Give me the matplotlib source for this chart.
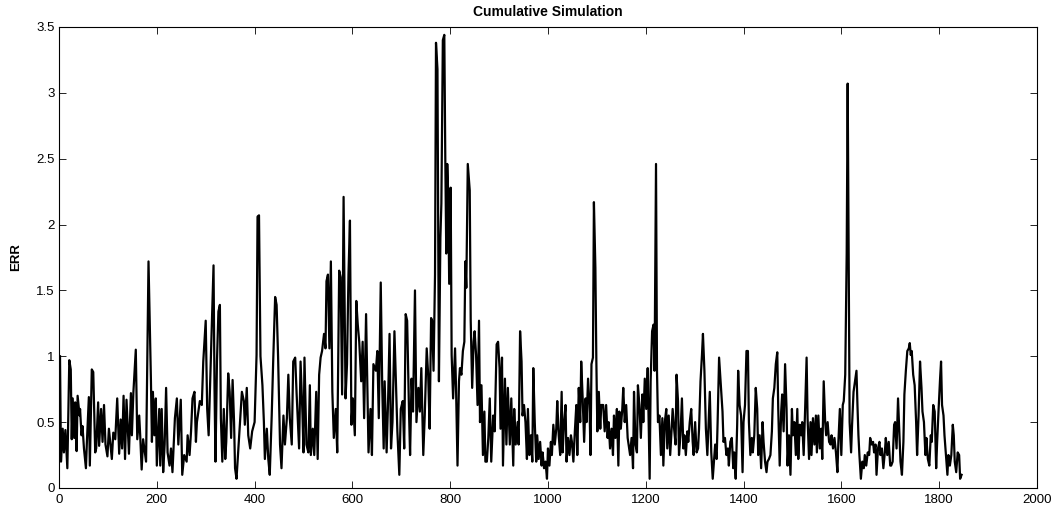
import matplotlib
matplotlib.use("Agg")
import matplotlib.pyplot as plt
from matplotlib.ticker import FuncFormatter

title = "Cumulative Simulation"
ylabel = "ERR"
xticks = [0, 200, 400, 600, 800, 1000, 1200, 1400, 1600, 1800, 2000]
yticks = [0, 0.5, 1, 1.5, 2, 2.5, 3, 3.5]

# (sample index, ERR)
x_vals = [
    2, 4, 7.5, 10, 13, 17, 21, 24, 26, 28, 31, 33, 35, 36, 38, 42, 43, 46, 48, 51,
    55, 57, 61, 63, 67, 70, 74, 76, 80, 82, 86, 89, 92, 95, 99, 102, 108, 111, 115, 119,
    123, 126, 129, 132, 135, 138, 143, 147, 149, 152, 157, 160, 164, 166, 169, 172, 178, 183,
    188, 190, 192, 195, 198, 200, 205, 207, 210, 213, 216, 219, 222, 226, 229, 232, 237, 241,
    244, 249, 252, 256, 261, 263, 267, 270, 273, 277, 280, 282, 285, 288, 292, 295, 300, 303,
    306, 310, 313, 316, 318, 320, 323, 326, 329, 331, 334, 337, 340, 342, 346, 349, 352, 355,
    358, 360, 363, 366, 370, 374, 378, 380, 384, 387, 391, 395, 400, 404, 406, 409, 412, 416,
    419, 421, 425, 428, 431, 435, 438, 442, 445, 448, 452, 455, 459, 462, 466, 469, 472, 476,
    479, 483, 486, 491, 494, 498, 500, 502, 506, 510, 513, 515, 519, 522, 526, 529, 532, 535,
    538, 542, 545, 547, 550, 553, 556, 559, 562, 566, 569, 573, 576, 579, 582, 586, 589, 592,
    595, 598, 601, 605, 608, 611, 614, 618, 621, 624, 628, 631, 633, 637, 640, 643, 648, 651,
    654, 658, 661, 664, 666, 670, 673, 676, 679, 682, 686, 689, 692, 696, 699, 703, 706, 709,
    712, 716, 718, 721, 724, 728, 731, 735, 738, 741, 745, 748, 752, 755, 758, 761, 763, 766,
    769, 771, 774, 777, 780, 782, 785, 788, 790, 792, 794, 796, 798, 801, 803, 806, 810, 812,
    815, 818, 820, 823, 826, 829, 831, 833, 836, 840, 842, 845, 848, 850, 853, 856, 859, 861,
    864, 867, 870, 872, 875, 878, 881, 884, 888, 891, 895, 898, 901, 903, 906, 908, 912, 915,
    918, 922, 925, 929, 931, 934, 938, 940, 943, 946, 948, 951, 954, 957, 959, 962, 965, 968,
    970, 973, 976, 978, 981, 984, 987, 989, 992, 995, 998, 1000, 1003, 1006, 1008, 1011, 1014, 1017,
    1019, 1022, 1025, 1028, 1030, 1033, 1036, 1038, 1041, 1044, 1047, 1049, 1052, 1055, 1058, 1060, 1063, 1066,
    1068, 1071, 1074, 1077, 1079, 1082, 1085, 1087, 1089, 1092, 1094, 1097, 1099, 1101, 1104, 1107, 1109, 1113,
    1116, 1119, 1122, 1124, 1127, 1130, 1133, 1135, 1138, 1141, 1144, 1146, 1149, 1152, 1154, 1157, 1160, 1163,
    1165, 1168, 1171, 1174, 1176, 1179, 1182, 1184, 1187, 1190, 1193, 1195, 1198, 1201, 1204, 1206, 1208, 1210,
    1213, 1216, 1218, 1221, 1223, 1225, 1228, 1231, 1234, 1236, 1239, 1242, 1244, 1247, 1250, 1253, 1255, 1258,
    1261, 1263, 1266, 1268, 1271, 1274, 1277, 1279, 1282, 1285, 1287, 1290, 1293, 1296, 1298, 1301, 1304, 1307,
    1309, 1312, 1315, 1317, 1320, 1323, 1326, 1328, 1331, 1334, 1337, 1339, 1342, 1345, 1347, 1350, 1357, 1359,
    1362, 1365, 1368, 1370, 1373, 1376, 1379, 1381, 1384, 1387, 1389, 1392, 1395, 1398, 1400, 1403, 1406, 1409,
    1411, 1414, 1417, 1419, 1422, 1425, 1428, 1430, 1433, 1436, 1439, 1441, 1444, 1447, 1449, 1452, 1455, 1458,
    1460, 1463, 1466, 1469, 1471, 1474, 1477, 1479, 1482, 1485, 1488, 1490, 1493, 1496, 1499, 1501, 1504, 1507,
    1510, 1512, 1515, 1518, 1520, 1523, 1526, 1529, 1531, 1534, 1537, 1539, 1542, 1545, 1548, 1550, 1553, 1556,
    1559, 1561, 1564, 1567, 1569, 1572, 1575, 1578, 1580, 1583, 1586, 1589, 1592, 1594, 1597, 1600, 1603, 1605,
    1608, 1611, 1613, 1615, 1617, 1620, 1622, 1625, 1628, 1631, 1633, 1635, 1637, 1640, 1643, 1646, 1648, 1651,
    1654, 1657, 1659, 1662, 1665, 1667, 1670, 1672, 1675, 1678, 1680, 1683, 1686, 1689, 1691, 1694, 1697, 1700,
    1702, 1705, 1708, 1710, 1713, 1716, 1719, 1721, 1724, 1727, 1729, 1732, 1735, 1738, 1740, 1742, 1744, 1747,
    1750, 1753, 1755, 1758, 1761, 1764, 1766, 1769, 1772, 1774, 1777, 1780, 1783, 1785, 1788, 1791, 1794, 1796,
    1799, 1802, 1804, 1806, 1809, 1811, 1814, 1817, 1819, 1822, 1825, 1828, 1830, 1832, 1835, 1838, 1841, 1843,
    1846,
]
err_vals = [
    1.0, 0.2, 0.45, 0.27, 0.44, 0.15, 0.97, 0.9, 0.37, 0.68, 0.38, 0.65, 0.35, 0.28, 0.7, 0.55, 0.6, 0.4, 0.47, 0.3,
    0.15, 0.35, 0.69, 0.17, 0.9, 0.88, 0.27, 0.3, 0.65, 0.32, 0.6, 0.35, 0.63, 0.33, 0.24, 0.45, 0.22, 0.42, 0.37, 0.68,
    0.26, 0.52, 0.3, 0.7, 0.22, 0.67, 0.26, 0.72, 0.4, 0.72, 1.05, 0.37, 0.55, 0.4, 0.14, 0.37, 0.2, 1.72,
    0.81, 0.35, 0.73, 0.4, 0.68, 0.17, 0.6, 0.17, 0.6, 0.12, 0.33, 0.76, 0.27, 0.17, 0.3, 0.12, 0.53, 0.68,
    0.33, 0.67, 0.1, 0.25, 0.2, 0.4, 0.25, 0.43, 0.68, 0.73, 0.35, 0.5, 0.58, 0.66, 0.63, 0.96, 1.27, 0.6,
    0.4, 0.91, 1.32, 1.69, 0.76, 0.2, 0.96, 1.34, 1.39, 0.53, 0.2, 0.6, 0.22, 0.35, 0.87, 0.73, 0.38, 0.82,
    0.5, 0.15, 0.07, 0.25, 0.5, 0.73, 0.66, 0.48, 0.76, 0.4, 0.3, 0.43, 0.5, 1.01, 2.06, 2.07, 1.0, 0.78,
    0.5, 0.22, 0.45, 0.22, 0.1, 0.55, 0.96, 1.45, 1.39, 1.0, 0.33, 0.15, 0.55, 0.33, 0.53, 0.86, 0.53, 0.33,
    0.96, 0.99, 0.71, 0.3, 0.96, 0.55, 0.27, 0.99, 0.33, 0.27, 0.78, 0.25, 0.45, 0.25, 0.73, 0.22, 0.86, 0.99,
    1.04, 1.17, 1.06, 1.57, 1.62, 1.06, 1.72, 0.73, 0.38, 0.6, 0.27, 1.65, 1.6, 0.71, 2.21, 0.68, 0.94, 1.62,
    2.03, 0.48, 0.68, 0.4, 1.42, 1.24, 1.11, 0.81, 1.11, 0.53, 1.32, 0.68, 0.27, 0.6, 0.25, 0.94, 0.89, 1.04,
    0.53, 1.56, 0.78, 0.3, 0.81, 0.27, 0.66, 1.17, 0.3, 0.5, 1.19, 0.81, 0.43, 0.1, 0.6, 0.66, 0.3, 1.32,
    1.27, 0.55, 0.25, 0.83, 0.58, 1.5, 0.5, 0.76, 0.58, 0.91, 0.25, 0.55, 1.06, 0.86, 0.45, 1.29, 1.27, 0.89,
    1.62, 3.38, 3.18, 0.81, 1.9, 2.16, 3.4, 3.44, 2.51, 1.78, 2.46, 2.23, 1.55, 2.28, 1.01, 0.68, 1.06, 0.76,
    0.17, 0.81, 0.91, 0.86, 1.04, 1.11, 1.72, 1.52, 2.46, 2.26, 1.27, 0.76, 1.11, 1.19, 1.01, 0.63, 1.27, 0.5,
    0.78, 0.25, 0.58, 0.2, 0.2, 0.38, 0.68, 0.2, 0.55, 0.43, 1.09, 1.11, 0.91, 0.45, 0.99, 0.17, 0.83, 0.33,
    0.76, 0.33, 0.68, 0.17, 0.6, 0.33, 0.5, 0.33, 1.19, 0.96, 0.55, 0.63, 0.5, 0.22, 0.6, 0.25, 0.4, 0.2,
    0.91, 0.5, 0.2, 0.4, 0.22, 0.35, 0.17, 0.27, 0.15, 0.2, 0.07, 0.3, 0.17, 0.35, 0.25, 0.48, 0.33, 0.45,
    0.66, 0.4, 0.25, 0.73, 0.27, 0.5, 0.63, 0.2, 0.38, 0.25, 0.4, 0.35, 0.2, 0.43, 0.63, 0.25, 0.76, 0.5,
    0.96, 0.68, 0.35, 0.68, 0.5, 0.83, 0.63, 0.25, 0.94, 0.99, 2.17, 1.67, 0.96, 0.43, 0.73, 0.45, 0.63, 0.63,
    0.43, 0.63, 0.38, 0.5, 0.3, 0.45, 0.25, 0.55, 0.38, 0.6, 0.17, 0.58, 0.45, 0.6, 0.76, 0.5, 0.63, 0.38,
    0.33, 0.25, 0.38, 0.15, 0.73, 0.33, 0.27, 0.78, 0.63, 0.38, 0.71, 0.5, 0.83, 0.6, 0.91, 0.5, 0.07, 0.81,
    1.19, 1.24, 0.89, 2.46, 0.89, 0.5, 0.55, 0.25, 0.53, 0.17, 0.5, 0.6, 0.3, 0.55, 0.25, 0.45, 0.6, 0.45,
    0.33, 0.86, 0.66, 0.25, 0.4, 0.68, 0.3, 0.4, 0.25, 0.43, 0.35, 0.5, 0.6, 0.35, 0.25, 0.5, 0.27, 0.3,
    0.45, 0.81, 1.01, 1.17, 0.89, 0.45, 0.25, 0.45, 0.73, 0.27, 0.07, 0.17, 0.33, 0.22, 0.5, 0.99, 0.58, 0.35,
    0.38, 0.25, 0.3, 0.17, 0.35, 0.38, 0.15, 0.27, 0.07, 0.48, 0.89, 0.63, 0.55, 0.12, 0.5, 0.63, 1.04, 1.04,
    0.5, 0.25, 0.38, 0.27, 0.4, 0.76, 0.6, 0.25, 0.4, 0.15, 0.5, 0.35, 0.2, 0.12, 0.2, 0.22, 0.25, 0.43,
    0.68, 0.76, 0.94, 1.03, 0.6, 0.17, 0.58, 0.71, 0.43, 0.94, 0.6, 0.17, 0.4, 0.1, 0.6, 0.4, 0.5, 0.25,
    0.6, 0.22, 0.48, 0.4, 0.5, 0.25, 0.6, 0.99, 0.53, 0.22, 0.5, 0.25, 0.53, 0.33, 0.55, 0.27, 0.55, 0.3,
    0.45, 0.22, 0.81, 0.5, 0.4, 0.5, 0.35, 0.33, 0.4, 0.3, 0.38, 0.27, 0.12, 0.35, 0.6, 0.25, 0.63, 0.66,
    0.86, 1.78, 3.07, 1.78, 0.5, 0.27, 0.48, 0.73, 0.81, 0.89, 0.63, 0.4, 0.25, 0.07, 0.2, 0.15, 0.25, 0.17,
    0.27, 0.25, 0.38, 0.33, 0.35, 0.27, 0.33, 0.1, 0.3, 0.35, 0.25, 0.3, 0.15, 0.27, 0.38, 0.25, 0.35, 0.17,
    0.17, 0.2, 0.48, 0.5, 0.3, 0.68, 0.38, 0.2, 0.1, 0.35, 0.71, 0.89, 1.04, 1.06, 1.1, 1.01, 1.04, 0.86,
    0.78, 0.5, 0.25, 0.55, 0.96, 0.76, 0.58, 0.5, 0.25, 0.38, 0.22, 0.17, 0.4, 0.35, 0.63, 0.58, 0.15, 0.35,
    0.6, 0.83, 0.96, 0.63, 0.55, 0.4, 0.25, 0.1, 0.25, 0.17, 0.25, 0.48, 0.4, 0.2, 0.12, 0.27, 0.25, 0.07,
    0.1,
]

plt.rcParams['font.family'] = ['Liberation Sans', 'DejaVu Sans']

fig = plt.figure(figsize=(10.56, 5.09), dpi=100)
ax = fig.add_axes([0.0559, 0.0413, 0.926, 0.9057])
ax.plot(x_vals, err_vals, color='black', linewidth=1.6)

ax.set_xlim(0, 2000)
ax.set_ylim(0, 3.5)
ax.set_xticks(xticks)
ax.set_yticks(yticks)
ax.yaxis.set_major_formatter(FuncFormatter(lambda v, p: f"{v:g}"))
ax.tick_params(direction='in', top=True, right=True, labelsize=9.5,
               length=5, width=0.6)
ax.tick_params(axis='x', pad=4)
ax.tick_params(axis='y', pad=3)
for s in ax.spines.values():
    s.set_linewidth(0.8)
ax.set_title(title, fontsize=10, fontweight='bold', pad=8)
ax.set_ylabel(ylabel, fontsize=9.5, fontweight='bold', labelpad=10)

fig.savefig("out.png", dpi=100)
